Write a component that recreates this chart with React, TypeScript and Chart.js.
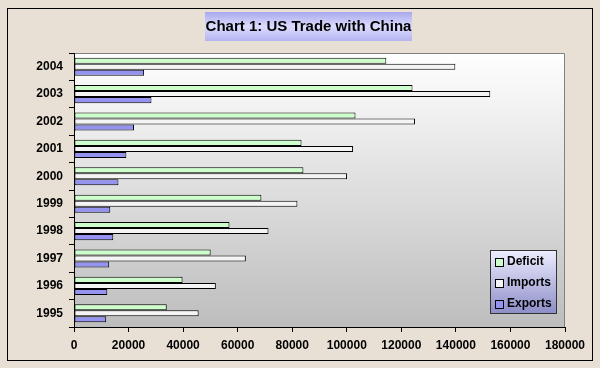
import React, { useEffect, useRef } from 'react';
import { Chart, registerables } from 'chart.js';

Chart.register(...registerables);

const years = ['2004', '2003', '2002', '2001', '2000', '1999', '1998', '1997', '1996', '1995'];
const deficit = [114500, 124100, 103200, 83400, 84100, 68700, 57000, 50100, 39800, 34000];
const imports = [139800, 152600, 125000, 102300, 100100, 81900, 71300, 63000, 52000, 45700];
const exportsData = [25700, 28400, 22000, 19200, 16300, 13300, 14400, 12900, 12200, 11800];
const seriesNames = ['Deficit', 'Imports', 'Exports'];
const seriesColors = ['#CCFFCC', '#F4F4F4', '#9494F0'];
const xMin = 0;
const xMax = 180000;
const xStep = 20000;
const titleText = 'Chart 1: US Trade with China';

const FONT = "'Liberation Sans', Arial, sans-serif";

const decor = {
  id: 'decor',
  beforeDraw(chart: any) {
    const { ctx, chartArea: a, width, height } = chart;
    ctx.save();
    ctx.fillStyle = '#E9E0D5';
    ctx.fillRect(0, 0, width, height);
    ctx.strokeStyle = '#000';
    ctx.lineWidth = 1;
    ctx.strokeRect(7.5, 8.5, 585, 352);
    const g = ctx.createLinearGradient(0, a.top, 0, a.bottom);
    g.addColorStop(0, '#FFFFFF');
    g.addColorStop(1, '#BDBDBD');
    ctx.fillStyle = g;
    ctx.fillRect(a.left, a.top, a.right - a.left, a.bottom - a.top);
    ctx.strokeStyle = '#808080';
    ctx.beginPath();
    ctx.moveTo(a.left, a.top + 0.5);
    ctx.lineTo(a.right - 0.5, a.top + 0.5);
    ctx.lineTo(a.right - 0.5, a.bottom);
    ctx.stroke();
    // title box
    const tg = ctx.createLinearGradient(0, 12, 0, 41);
    tg.addColorStop(0, '#A8A8EC');
    tg.addColorStop(0.5, '#DCDCFF');
    tg.addColorStop(1, '#B4B4F0');
    ctx.fillStyle = tg;
    ctx.fillRect(205, 12, 207, 29);
    ctx.fillStyle = '#000';
    ctx.font = `bold 15px ${FONT}`;
    ctx.textAlign = 'center';
    ctx.textBaseline = 'middle';
    ctx.fillText(titleText, 308.5, 27);
    ctx.restore();
  },
  afterDraw(chart: any) {
    const { ctx } = chart;
    ctx.save();
    const lx = 490, ly = 250, lw = 67, lh = 64;
    const lg = ctx.createLinearGradient(0, ly, 0, ly + lh);
    lg.addColorStop(0, '#EEEEFF');
    lg.addColorStop(1, '#8C8CC8');
    ctx.fillStyle = lg;
    ctx.fillRect(lx, ly, lw, lh);
    ctx.strokeStyle = '#333';
    ctx.lineWidth = 1;
    ctx.strokeRect(lx + 0.5, ly + 0.5, lw - 1, lh - 1);
    ctx.font = `bold 12px ${FONT}`;
    ctx.textAlign = 'left';
    ctx.textBaseline = 'middle';
    chart.data.datasets.forEach((ds: any, i: number) => {
      const cy = 262 + i * 20.8;
      ctx.fillStyle = ds.backgroundColor;
      ctx.fillRect(495, Math.round(cy - 4), 9, 9);
      ctx.strokeStyle = '#000';
      ctx.strokeRect(495.5, Math.round(cy - 4) + 0.5, 8, 8);
      ctx.fillStyle = '#000';
      ctx.fillText(ds.label, 507, cy);
    });
    ctx.restore();
  },
};

export default function App() {
  const ref = useRef<HTMLCanvasElement>(null);
  useEffect(() => {
    document.body.style.margin = '0';
    const tickFont = { family: FONT, size: 12, weight: 'bold' as const };
    const values = [deficit, imports, exportsData];
    const chart = new Chart(ref.current!, {
      type: 'bar',
      data: {
        labels: years,
        datasets: seriesNames.map((name, i) => ({
          label: name,
          data: values[i],
          backgroundColor: seriesColors[i],
          borderColor: '#000',
          borderWidth: 1,
          borderSkipped: false,
        })),
      },
      options: {
        indexAxis: 'y',
        responsive: false,
        animation: false,
        datasets: { bar: { barPercentage: 1, categoryPercentage: 0.66 } },
        layout: { padding: { top: 53, right: 35, left: 0, bottom: 0 } },
        plugins: {
          legend: { display: false },
          title: { display: false },
          tooltip: { enabled: false },
        },
        scales: {
          x: {
            min: xMin,
            max: xMax,
            ticks: {
              stepSize: xStep,
              font: tickFont,
              color: '#000',
              padding: 6,
              maxRotation: 0,
              autoSkip: false,
              callback: (v: any) => String(v),
            },
            grid: { drawOnChartArea: false, tickLength: 5, color: '#000' },
            border: { color: '#000' },
            afterFit: (s: any) => { s.height = 41; },
          },
          y: {
            ticks: { font: tickFont, color: '#000', padding: 6 },
            grid: { drawOnChartArea: false, tickLength: 5, color: '#000', offset: true },
            border: { color: '#000' },
            afterFit: (s: any) => { s.width = 74; },
          },
        },
      },
      plugins: [decor],
    } as any);
    return () => chart.destroy();
  }, []);
  return (
    <div style={{ width: 600, height: 368 }}>
      <canvas ref={ref} width={600} height={368} style={{ display: 'block' }} />
    </div>
  );
}
